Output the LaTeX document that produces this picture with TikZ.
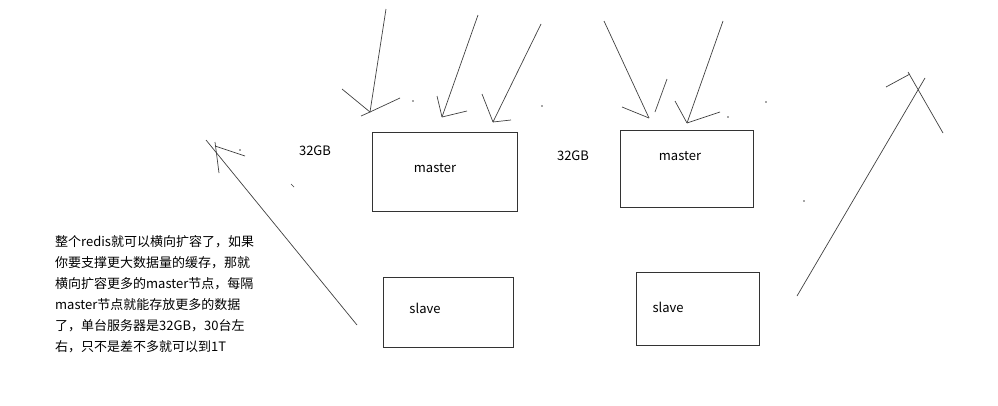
\documentclass[tikz,border=0pt]{standalone}
\usepackage{fontspec}
\setmainfont{Noto Sans CJK SC}
\usetikzlibrary{positioning}

\begin{document}
\begin{tikzpicture}[x=1pt, y=-1pt,
  server/.style={draw=black!80, line width=0.8pt, inner sep=0pt},
  tag/.style={font=\fontsize{13}{15}\selectfont, inner sep=0pt},
  stroke/.style={draw=black!75, line width=0.7pt},
  speck/.style={fill=black!70, draw=none},
  note/.style={font=\fontsize{13}{21}\selectfont, align=left, anchor=north west, inner sep=0pt}]

  \useasboundingbox (0,0) rectangle (998,405);

  % servers
  \node[server, minimum width=145pt, minimum height=79pt] (m1) at (444.5,171.5) {};
  \node[server, minimum width=133pt, minimum height=77pt] (m2) at (686.5,168.5) {};
  \node[server, minimum width=130pt, minimum height=70pt] (s1) at (448,312) {};
  \node[server, minimum width=123pt, minimum height=73pt] (s2) at (697.5,308.5) {};

  \node[tag] (m1label) at (435,168) {master};
  \node[tag] (m2label) at (680,156) {master};
  \node[tag] (s1label) at (425,308) {slave};
  \node[tag] (s2label) at (668,307) {slave};
  \node[tag] (gb1) at (315,151) {32GB};
  \node[tag] (gb2) at (573,156) {32GB};

  \node[note] (remark) at (55,235) {整个redis就可以横向扩容了，如果\\
    你要支撑更大数据量的缓存，那就\\
    横向扩容更多的master节点，每隔\\
    master节点就能存放更多的数据\\
    了，单台服务器是32GB，30台左\\
    右，只不是差不多就可以到1T};

  % requests coming down onto the masters
  \coordinate (tailA) at (386,9);   \coordinate (tipA) at (370,112);
  \coordinate (tailB) at (478,15);  \coordinate (tipB) at (442,117);
  \coordinate (tailC) at (541,24);  \coordinate (tipC) at (493,122);
  \coordinate (tailD) at (604,21);  \coordinate (tipD) at (649,118);
  \coordinate (tailE) at (723,21);  \coordinate (tipE) at (687,123);

  \draw[stroke] (tailA) -- (tipA);
  \draw[stroke] (tipA) -- ++(-28,-23);
  \draw[stroke] (tipA) -- ++(30,-14);
  \draw[stroke] (tipA) -- ++(-9,4);

  \draw[stroke] (tailB) -- (tipB);
  \draw[stroke] (tipB) -- ++(-5,-21);
  \draw[stroke] (tipB) -- ++(25,-6);

  \draw[stroke] (tailC) -- (tipC);
  \draw[stroke] (tipC) -- ++(-11,-28);
  \draw[stroke] (tipC) -- ++(18,-2);

  \draw[stroke] (tailD) -- (tipD);
  \draw[stroke] (tipD) -- ++(-27,-11);
  \draw[stroke] (667,79) -- (655,112);

  \draw[stroke] (tailE) -- (tipE);
  \draw[stroke] (tipE) -- ++(-12,-22);
  \draw[stroke] (tipE) -- ++(33,-11);

  % growth arrows on both sides
  \coordinate (tailF) at (357,325); \coordinate (tipF) at (206,140);
  \draw[stroke] (tailF) -- (tipF);
  \draw[stroke] (215,142) -- (219,173);
  \draw[stroke] (215,146) -- (245,156);
  \draw[stroke] (291,184) -- (294,187);

  \coordinate (tailG) at (797,296); \coordinate (tipG) at (925,78);
  \draw[stroke] (tailG) -- (tipG);
  \draw[stroke] (908,72) -- (943,133);
  \draw[stroke] (886,87) -- (910,74);

  % stray specks
  \foreach \p in {(413,101),(542,106),(728,117),(766,102),(804,201),(240,150)}
    \fill[speck] \p circle (0.8pt);
\end{tikzpicture}
\end{document}
